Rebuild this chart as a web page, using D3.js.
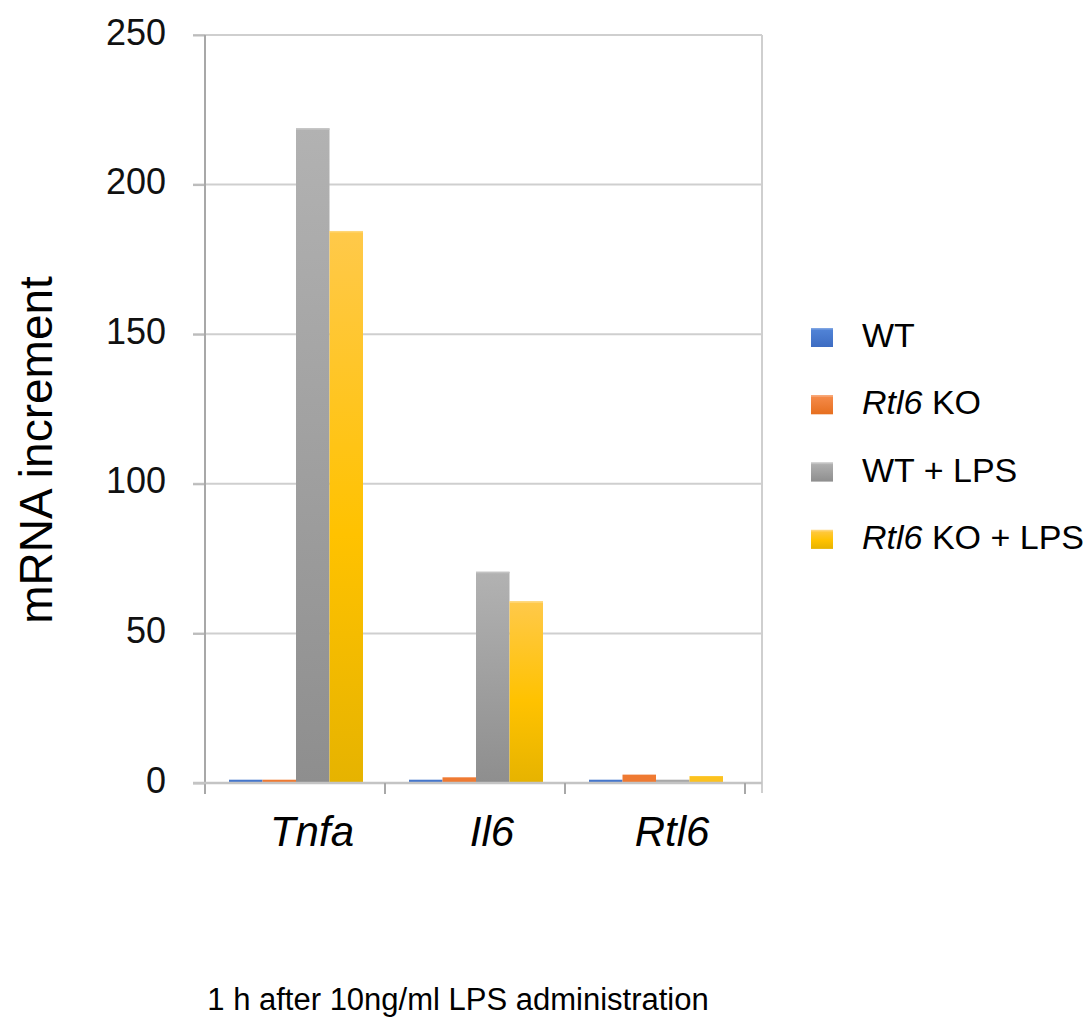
<!DOCTYPE html>
<html><head><meta charset="utf-8">
<script src="https://cdn.jsdelivr.net/npm/d3@7"></script>
<style>
html,body{margin:0;padding:0;background:#fff;}
svg{display:block;font-family:"Liberation Sans",Arial,Helvetica,sans-serif;}
</style></head>
<body>
<svg id="chart" width="1091" height="1020"></svg>
<script>
const categories = ["Tnfa", "Il6", "Rtl6"];
const seriesNames = ["WT", "Rtl6 KO", "WT + LPS", "Rtl6 KO + LPS"];
const wtValues = [1.1, 1.1, 1.1];
const koValues = [1.1, 1.9, 2.8];
const wtLpsValues = [218.8, 70.6, 1.1];
const koLpsValues = [184.5, 60.7, 2.3];
const yTicks = [0, 50, 100, 150, 200, 250];
const seriesValues = [wtValues, koValues, wtLpsValues, koLpsValues];

(function () {
const gradStops = [
  ["#5285d8", "#3d6cc2"],
  ["#f68c4c", "#e66f1f"],
  ["#b2b2b2", "#8e8e8e"],
  ["#ffc94a", "#e6b300"]
];
const topEdge = ["#7ea4e2", "#f8a676", "#c2c2c2", "#ffd675"];
const smallFill = ["#4677cc", "#ef7a32", "#a8a8a8", "#fcc21e"];

const svg = d3.select("#chart");
const defs = svg.append("defs");
gradStops.forEach((g, i) => {
  const lg = defs.append("linearGradient").attr("id", "g" + i)
    .attr("x1", 0).attr("y1", 0).attr("x2", 0).attr("y2", 1);
  lg.append("stop").attr("offset", "0%").attr("stop-color", g[0]);
  if (i === 3) lg.append("stop").attr("offset", "55%").attr("stop-color", "#ffc200");
  lg.append("stop").attr("offset", "100%").attr("stop-color", g[1]);
});

const pLeft = 205, bandRight = 745, frameRight = 762, pTop = 35, pBottom = 783;
const y = d3.scaleLinear().domain([0, 250]).range([pBottom, pTop]);
const x0 = d3.scaleBand().domain(categories).range([pLeft, bandRight]).padding(0);
const x1 = d3.scaleBand().domain(seriesNames).range([24, 158]).padding(0);

// gridlines
svg.append("g").selectAll("line").data(yTicks.filter(t => t > 0)).join("line")
  .attr("x1", pLeft - 12).attr("x2", frameRight)
  .attr("y1", d => y(d)).attr("y2", d => y(d))
  .attr("stroke", "#cfcfcf").attr("stroke-width", 2);

// y axis
const yAxis = d3.axisLeft(y).tickValues(yTicks).tickSize(12).tickPadding(27);
const gy = svg.append("g").attr("transform", `translate(${pLeft},0)`).call(yAxis);
gy.select(".domain").remove();
gy.selectAll(".tick line").attr("stroke", "#bcbcbc").attr("stroke-width", 2);
gy.selectAll(".tick text").attr("font-size", 36).attr("fill", "#111").attr("dy", "0.25em")
  .attr("font-family", "'Liberation Sans',Arial,sans-serif");
svg.append("line").attr("x1", pLeft).attr("x2", pLeft).attr("y1", pTop).attr("y2", pBottom + 11)
  .attr("stroke", "#a8a8a8").attr("stroke-width", 2);
svg.append("line").attr("x1", frameRight).attr("x2", frameRight).attr("y1", pTop).attr("y2", pBottom + 10)
  .attr("stroke", "#cfcfcf").attr("stroke-width", 2);

// bars
const groups = svg.append("g").selectAll("g").data(categories).join("g")
  .attr("transform", d => `translate(${x0(d)},0)`);
groups.each(function (cat, ci) {
  const g = d3.select(this);
  seriesNames.forEach((s, si) => {
    const v = seriesValues[si][ci];
    const h = y(0) - y(v);
    g.append("rect").attr("x", x1(s)).attr("width", x1.bandwidth())
      .attr("y", y(v)).attr("height", h)
      .attr("fill", h > 20 ? `url(#g${si})` : smallFill[si]);
    if (h > 20) {
      g.append("rect").attr("x", x1(s)).attr("width", x1.bandwidth())
        .attr("y", y(v)).attr("height", 1.5).attr("fill", topEdge[si]);
    }
  });
});

// x axis line and ticks
svg.append("line").attr("x1", pLeft - 12).attr("x2", frameRight).attr("y1", pBottom).attr("y2", pBottom)
  .attr("stroke", "#c4c4c4").attr("stroke-width", 2.5);
const xt = categories.map(c => x0(c) + x0.bandwidth());
svg.append("g").selectAll("line").data(xt).join("line")
  .attr("x1", d => d).attr("x2", d => d).attr("y1", pBottom).attr("y2", pBottom + 11)
  .attr("stroke", "#a8a8a8").attr("stroke-width", 2);

// category labels
svg.append("g").selectAll("text").data(categories).join("text")
  .attr("x", d => x0(d) + x0.bandwidth() / 2 + 17).attr("y", 846)
  .attr("text-anchor", "middle").attr("font-size", 42).attr("font-style", "italic")
  .attr("fill", "#000").text(d => d);

// axis titles
svg.append("text").attr("transform", "translate(52,450) rotate(-90)")
  .attr("text-anchor", "middle").attr("font-size", 46).attr("fill", "#000")
  .text("mRNA increment");
svg.append("text").attr("x", 458).attr("y", 1010).attr("text-anchor", "middle")
  .attr("font-size", 31).attr("fill", "#000")
  .text("1 h after 10ng/ml LPS administration");

// legend
const lg = svg.append("g").selectAll("g").data(seriesNames).join("g")
  .attr("transform", (d, i) => `translate(811,${328 + i * 67.3})`);
lg.append("rect").attr("width", 22).attr("height", 19).attr("fill", (d, i) => `url(#g${i})`);
lg.append("rect").attr("width", 22).attr("height", 1.5).attr("fill", (d, i) => topEdge[i]);
lg.each(function (d) {
  const t = d3.select(this).append("text").attr("x", 51).attr("y", 19)
    .attr("font-size", 34).attr("fill", "#000");
  if (d.startsWith("Rtl6")) {
    t.append("tspan").attr("font-style", "italic").text("Rtl6");
    t.append("tspan").text(d.slice(4));
  } else {
    t.text(d);
  }
});
})();
</script>
</body></html>
